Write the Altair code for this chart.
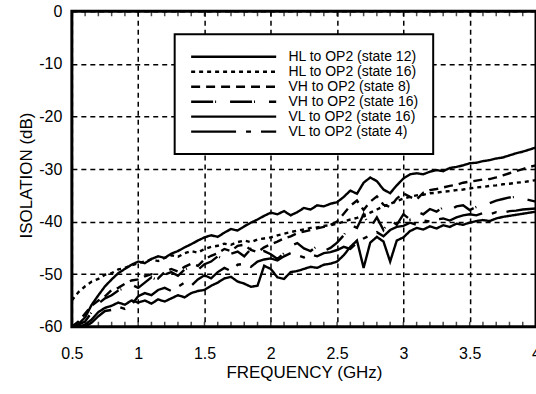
import altair as alt
import pandas as pd

FONT = "Liberation Sans"

freq = [0.50, 0.55, 0.60, 0.65, 0.70, 0.75, 0.80, 0.85, 0.90, 0.95,
        1.00, 1.05, 1.10, 1.15, 1.20, 1.25, 1.30, 1.35, 1.40, 1.45,
        1.50, 1.55, 1.60, 1.65, 1.70, 1.75, 1.80, 1.85, 1.90, 1.95,
        2.00, 2.05, 2.10, 2.15, 2.20, 2.25, 2.30, 2.35, 2.40, 2.45,
        2.50, 2.55, 2.60, 2.65, 2.70, 2.75, 2.80, 2.85, 2.90, 2.95,
        3.00, 3.05, 3.10, 3.15, 3.20, 3.25, 3.30, 3.35, 3.40, 3.45,
        3.50, 3.55, 3.60, 3.65, 3.70, 3.75, 3.80, 3.85, 3.90, 3.95,
        4.00]

hl_state12 = [-60.0, -59.5, -58.2, -55.8, -54.0, -52.3, -51.0, -49.8, -49.0, -48.2,
              -47.6, -47.9, -47.1, -46.6, -46.9, -46.1, -45.6, -44.9, -44.3, -43.6,
              -43.0, -42.6, -42.9, -42.1, -41.4, -41.7, -40.9, -40.2, -39.6, -38.9,
              -38.3, -38.6, -38.0, -38.8, -38.2, -37.4, -37.7, -36.9, -37.1, -36.6,
              -36.3, -35.3, -34.1, -34.7, -32.6, -31.6, -32.3, -33.9, -34.6, -33.1,
              -31.8, -31.0, -30.8, -31.0, -30.5, -30.2, -30.4, -29.8, -29.6, -29.3,
              -28.9, -28.8, -28.5, -28.3, -28.0, -27.8, -27.4, -27.0, -26.7, -26.3,
              -25.9]

hl_state16 = [-55.0, -53.4, -52.3, -51.4, -50.9, -50.1, -49.8, -49.1, -48.8, -48.3,
              -47.9, -47.6, -47.2, -47.5, -46.9, -46.4, -46.7, -46.0, -45.6, -45.9,
              -45.2, -44.8, -44.6, -44.2, -44.4, -43.9, -43.6, -43.9, -43.4, -43.2,
              -43.0, -42.6, -42.3, -42.0, -41.7, -41.5, -41.2, -41.1, -40.8, -40.7,
              -40.4, -40.0, -39.6, -39.3, -38.8, -38.3, -37.7, -37.1, -36.6, -36.1,
              -35.6, -35.3, -35.0, -34.9, -34.6, -34.5, -34.3, -34.2, -34.0, -33.9,
              -33.7, -33.5, -33.4, -33.2, -33.1, -32.9, -32.8, -32.6, -32.5, -32.3,
              -32.1]

vh_state8 = [-60.0, -59.0, -57.5, -56.0, -55.0, -54.2, -53.0, -52.6, -51.8, -51.2,
             -51.0, -50.4, -50.0, -50.8, -49.6, -49.0, -49.5, -48.6, -48.0, -48.4,
             -47.2, -46.5, -46.0, -45.2, -45.6, -44.6, -44.4, -45.4, -45.8, -44.9,
             -44.3, -43.8, -43.2, -42.8, -42.2, -41.9, -41.6, -41.3, -41.0, -40.6,
             -40.0, -38.5, -37.0, -36.0, -37.8, -36.2, -35.2, -36.8, -37.2, -35.6,
             -34.6, -35.3, -35.8, -34.5, -34.0, -33.8, -33.5, -33.2, -33.0, -32.6,
             -32.4, -32.2, -32.0, -31.9, -31.6, -31.2, -30.8, -30.4, -30.0, -29.6,
             -29.3]

vh_state16 = [-60.0, -59.6, -59.0, -57.2, -55.6, -54.6, -54.0, -53.1, -52.6, -52.0,
              -52.6, -51.6, -50.6, -51.2, -50.1, -49.6, -50.3, -49.1, -48.6, -49.2,
              -48.1, -47.6, -46.6, -47.2, -46.1, -45.7, -46.6, -45.2, -46.1, -45.6,
              -46.2, -47.1, -46.0, -44.6, -44.1, -45.1, -45.6, -44.6, -45.6, -45.0,
              -44.0, -42.6, -40.6, -41.2, -38.6, -41.2, -39.2, -41.6, -39.6, -40.6,
              -38.6, -39.6, -38.1, -38.6, -37.6, -38.1, -37.3, -37.9, -37.1, -36.9,
              -37.8, -37.2, -36.8, -36.5, -36.0, -35.7, -35.4, -35.3, -35.6, -35.9,
              -36.2]

vl_state16 = [-60.0, -60.0, -59.6, -58.6, -57.2, -56.4, -56.0, -55.4, -55.8, -55.0,
              -55.4, -55.0, -55.6, -54.8, -55.2, -54.6, -54.0, -54.4, -53.6, -53.2,
              -53.0, -52.2, -51.6, -50.8, -50.5, -51.4, -51.8, -52.4, -52.2, -48.4,
              -49.0, -50.6, -50.9, -49.6, -49.4, -49.0, -48.6, -48.8, -48.2, -48.0,
              -47.6, -46.4, -44.8, -43.6, -48.8, -44.0, -42.9, -43.8, -47.6, -43.6,
              -43.0, -41.8, -41.2, -41.5, -40.9, -41.3, -40.7, -41.0, -40.4, -40.6,
              -40.2, -39.9, -39.7, -39.9, -39.4, -39.1, -38.9, -38.7, -38.5, -38.3,
              -38.1]

vl_state4 = [-60.0, -60.0, -60.0, -59.2, -58.0, -57.0, -56.8, -56.2, -56.6, -55.8,
             -54.2, -53.6, -54.0, -53.0, -52.6, -53.2, -52.4, -51.6, -52.2, -51.0,
             -50.2, -50.8, -49.6, -48.8, -49.4, -48.2, -48.0, -48.6, -47.6, -47.2,
             -47.0, -47.4, -46.6, -46.0, -46.4, -46.8, -46.2, -46.6, -46.0, -45.8,
             -45.4, -44.8, -45.2, -44.0, -43.2, -42.6, -42.0, -42.8, -41.6, -41.0,
             -40.8, -40.2, -40.6, -39.8, -40.0, -39.6, -39.4, -39.8, -39.2, -38.8,
             -38.6, -38.8, -38.4, -38.6, -38.2, -38.3, -38.0, -37.9, -37.7, -37.6,
             -37.5]

series_names = ["HL to OP2 (state 12)", "HL to OP2 (state 16)", "VH to OP2 (state 8)",
                "VH to OP2 (state 16)", "VL to OP2 (state 16)", "VL to OP2 (state 4)"]
series_values = [hl_state12, hl_state16, vh_state8, vh_state16, vl_state16, vl_state4]
series_dashes = [[1, 0], [4, 4], [9, 6], [22, 2, 1, 14], [1, 0], [45, 10, 5, 10]]

x_ticks = [0.5, 1, 1.5, 2, 2.5, 3, 3.5, 4]
y_ticks = [-60, -50, -40, -30, -20, -10, 0]
minor_x = [0.6, 0.7, 0.8, 0.9, 1.0, 1.1, 1.2, 1.3, 1.4, 1.5, 1.6, 1.7, 1.8, 1.9,
           2.0, 2.1, 2.2, 2.3, 2.4, 2.5, 2.6, 2.7, 2.8, 2.9, 3.0, 3.1, 3.2, 3.3,
           3.4, 3.5, 3.6, 3.7, 3.8, 3.9]
edge_y = [-60, 0]

rows = []
for name, vals in zip(series_names, series_values):
    for f, v in zip(freq, vals):
        rows.append({"series": name, "freq": f, "iso": v})
df = pd.DataFrame(rows)

tick_df = pd.DataFrame([{"freq": f, "iso": e} for f in minor_x for e in edge_y])

x_scale = alt.Scale(domain=[0.5, 4], nice=False, zero=False)
y_scale = alt.Scale(domain=[-60, 0], nice=False, zero=False)

x_axis = alt.Axis(values=x_ticks, labelExpr="'' + datum.value", title="FREQUENCY (GHz)",
                  ticks=False, domain=False, labelPadding=19, labelFontSize=16,
                  labelFont=FONT, labelColor="black", labelFlush=False,
                  titleFont=FONT, titleFontSize=17, titleFontWeight="normal",
                  titleColor="black", titleBaseline="alphabetic", titleY=51,
                  grid=True, gridColor="black", gridDash=[5, 4], gridWidth=1.5,
                  gridOpacity=1)
y_axis = alt.Axis(values=y_ticks, labelExpr="'' + datum.value", title="ISOLATION (dB)",
                  ticks=False, domain=False, labelPadding=10, labelFontSize=16,
                  labelFont=FONT, labelColor="black",
                  titleFont=FONT, titleFontSize=17, titleFontWeight="normal",
                  titleColor="black", titleBaseline="alphabetic", titleX=-40, titleY=164,
                  grid=True, gridColor="black", gridDash=[5, 4], gridWidth=1.5,
                  gridOpacity=1)

lines = alt.Chart(df).mark_line(color="black", strokeWidth=2.4, clip=True).encode(
    x=alt.X("freq:Q", scale=x_scale, axis=x_axis),
    y=alt.Y("iso:Q", scale=y_scale, axis=y_axis),
    strokeDash=alt.StrokeDash(
        "series:N",
        scale=alt.Scale(domain=series_names, range=series_dashes),
        legend=alt.Legend(orient="none", legendX=103, legendY=23, title=None,
                          symbolType="M-1,0H13.2", symbolSize=144, symbolStrokeWidth=2.4,
                          symbolStrokeColor="black", labelFont=FONT, labelFontSize=14,
                          labelColor="black", labelLimit=400, labelOffset=84,
                          padding=15, rowPadding=0, fillColor="white",
                          strokeColor="black"),
    ),
    detail="series:N",
    order="freq:Q",
)

minor = alt.Chart(tick_df).mark_tick(orient="vertical", size=10, thickness=1.5,
                                      color="black", clip=True).encode(
    x=alt.X("freq:Q", scale=x_scale),
    y=alt.Y("iso:Q", scale=y_scale),
)

chart = alt.layer(lines, minor).properties(
    width=465, height=316,
    autosize=alt.AutoSizeParams(type="none"),
    padding={"left": 72, "top": 11, "right": 0, "bottom": 67},
).configure_view(stroke="black", strokeWidth=3).configure_legend(strokeWidth=2)

chart.save("out.html", embed_options={"renderer": "svg", "actions": False})
